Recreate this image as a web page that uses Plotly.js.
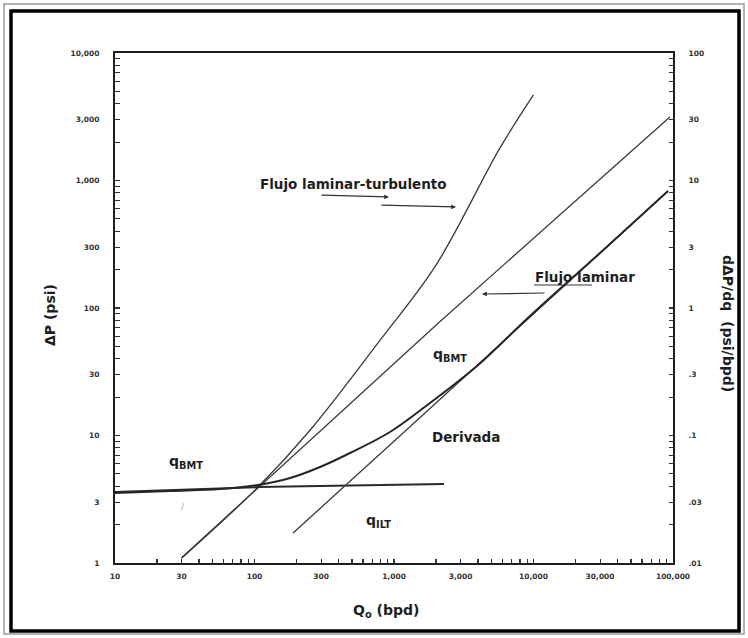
<!DOCTYPE html>
<html>
<head>
<meta charset="utf-8">
<script src="https://cdn.plot.ly/plotly-3.0.1.min.js"></script>
<style>
  html, body { margin: 0; padding: 0; background: #fff; }
  #chart { width: 748px; height: 638px; }
</style>
</head>
<body>
<div id="chart"></div>
<script>
// ---------- data ----------
// X axis: Qo (bpd); left Y: ΔP (psi); right Y: dΔP/dq (psi/bpd)
const xTickVals = [10, 30, 100, 300, 1000, 3000, 10000, 30000, 100000];
const xTickText = ["10", "30", "100", "300", "1,000", "3,000", "10,000", "30,000", "100,000"];
const yTickVals = [1, 3, 10, 30, 100, 300, 1000, 3000, 10000];
const yTickText = ["1", "3", "10", "30", "100", "300", "1,000", "3,000", "10,000"];
const y2TickVals = [0.01, 0.03, 0.1, 0.3, 1, 3, 10, 30, 100];
const y2TickText = [".01", ".03", ".1", ".3", "1", "3", "10", "30", "100"];

// ΔP curve, laminar-turbulent flow (left axis)
const qTurb  = [30, 106, 250, 795, 2000, 5750, 10000];
const dpTurb = [1.09, 3.94, 11.0, 56, 217, 1800, 4690];

// ΔP straight line, laminar flow (left axis)
const qLam  = [30, 2100, 95000];
const dpLam = [1.1, 77, 3150];

// Derivative curve (right axis)
const qDer = [10, 24.8, 56.6, 106, 180, 295, 484, 936, 1811, 3936, 9440, 29990, 92100];
const dDer = [0.0354, 0.0367, 0.038, 0.0409, 0.0464, 0.0566, 0.0729, 0.1065, 0.180, 0.351, 0.865, 2.70, 8.27];

// Derivative late-time straight line (right axis)
const qAsym = [189, 1368, 92100];
const dAsym = [0.0172, 0.123, 8.27];

// Derivative early-time flat line (right axis)
const qFlat = [10, 106, 2280];
const dFlat = [0.0361, 0.0394, 0.0417];

// ---------- layout helpers (pixel -> paper) ----------
const L = 115, R = 673, T = 53, B = 563;
const W = R - L, H = B - T;
const px = v => (v - L) / W;
const py = v => (B - v) / H;

// major labelled ticks + unlabelled minor log ticks (2..9 within each decade)
function withMinor(vals, text) {
  const tv = [], tt = [];
  for (let i = 0; i < vals.length; i++) {
    tv.push(vals[i]); tt.push(text[i]);
    if (i < vals.length - 1) {
      const base = Math.pow(10, Math.floor(Math.log10(vals[i]) + 1e-9));
      for (let k = 2; k <= 9; k++) {
        const v = k * base;
        if (v > vals[i] * 1.0001 && v < vals[i + 1] * 0.9999) { tv.push(v); tt.push(""); }
      }
    }
  }
  return { tv, tt };
}
const xT = withMinor(xTickVals, xTickText);
const yT = withMinor(yTickVals, yTickText);
const y2T = withMinor(y2TickVals, y2TickText);

const FONT = "DejaVu Sans, Liberation Sans, Arial, sans-serif";
const INK = "#1e1e1e";

const traces = [
  { x: qFlat, y: dFlat, yaxis: "y2", mode: "lines", line: { color: "#2a2a2a", width: 2 }, hoverinfo: "skip" },
  { x: qAsym, y: dAsym, yaxis: "y2", mode: "lines", line: { color: "#3a3a3a", width: 1.3 }, hoverinfo: "skip" },
  { x: qDer, y: dDer, yaxis: "y2", mode: "lines", line: { color: "#262626", width: 2, shape: "spline", smoothing: 1 }, hoverinfo: "skip" },
  { x: qLam, y: dpLam, mode: "lines", line: { color: "#3a3a3a", width: 1.3 }, hoverinfo: "skip" },
  { x: qTurb, y: dpTurb, mode: "lines", line: { color: "#3a3a3a", width: 1.3, shape: "spline", smoothing: 1 }, hoverinfo: "skip" }
];

const tickFont = { family: FONT, size: 7.5, color: "#333", weight: "bold" };

const axisCommon = {
  type: "log", showgrid: false, zeroline: false,
  showline: true, linecolor: INK, linewidth: 2,
  ticks: "inside", ticklen: 4, tickwidth: 1.1, tickcolor: "#333",
  tickfont: tickFont, tickmode: "array"
};

const layout = {
  width: 748, height: 638,
  margin: { l: L, r: 748 - R, t: T, b: 638 - B, pad: 0 },
  paper_bgcolor: "#fff", plot_bgcolor: "#fff",
  showlegend: false,
  font: { family: FONT, color: INK },
  xaxis: Object.assign({}, axisCommon, {
    range: [1, 5], tickvals: xT.tv, ticktext: xT.tt, mirror: true, ticklabelstandoff: 5
  }),
  yaxis: Object.assign({}, axisCommon, {
    range: [0, 4], tickvals: yT.tv, ticktext: yT.tt, ticklen: 5, ticklabelstandoff: 12
  }),
  yaxis2: Object.assign({}, axisCommon, {
    range: [-2, 2], tickvals: y2T.tv, ticktext: y2T.tt,
    overlaying: "y", side: "right", ticklabelstandoff: 12
  }),
  shapes: [
    // outer double frame of the figure
    { type: "rect", xref: "paper", yref: "paper", x0: px(4), x1: px(744), y0: py(634), y1: py(4),
      line: { color: "#9a9a9a", width: 1.5 } },
    { type: "rect", xref: "paper", yref: "paper", x0: px(11), x1: px(739), y0: py(631), y1: py(11),
      line: { color: "#000", width: 3.5 } },
    // underline of "Flujo la" in "Flujo laminar"
    { type: "line", xref: "paper", yref: "paper", x0: px(534), x1: px(592), y0: py(285), y1: py(285),
      line: { color: "#333", width: 1 } }
  ],
  annotations: [
    { text: "<b>ΔP (psi)</b>", x: px(50), y: py(315), textangle: -90, size: 14 },
    { text: "<b>dΔP/dq  (psi/bpd)</b>", x: px(728), y: py(323), textangle: 90, size: 14 },
    { text: "<b>Q<sub>o</sub> (bpd)</b>", x: px(386), y: py(611), size: 14 },
    { text: "<b>Flujo laminar-turbulento</b>", x: px(353), y: py(184), size: 13.5 },
    { text: "<b>Flujo laminar</b>", x: px(585), y: py(277), size: 13.5 },
    { text: "<b>Derivada</b>", x: px(466), y: py(437), size: 13.5 },
    { text: "<b>q<sub>BMT</sub></b>", x: px(450), y: py(355), size: 14 },
    { text: "<b>q<sub>BMT</sub></b>", x: px(186), y: py(462), size: 14 },
    { text: "<b>q<sub>ILT</sub></b>", x: px(378), y: py(521), size: 14 },
    { text: "/", x: px(183), y: py(507), size: 9, color: "#aaa" }
  ].map(a => ({
    text: a.text, xref: "paper", yref: "paper", x: a.x, y: a.y,
    xanchor: "center", yanchor: "middle", showarrow: false,
    textangle: a.textangle || 0,
    font: { size: a.size, family: FONT, color: a.color || INK }
  })).concat([
    // arrows
    { text: "", xref: "paper", yref: "paper", x: px(389), y: py(197), ax: -69, ay: -2, showarrow: true,
      arrowhead: 2, arrowsize: 0.8, arrowwidth: 1.2, arrowcolor: "#333" },
    { text: "", xref: "paper", yref: "paper", x: px(456), y: py(207), ax: -76, ay: -2, showarrow: true,
      arrowhead: 2, arrowsize: 0.8, arrowwidth: 1.2, arrowcolor: "#333" },
    { text: "", xref: "paper", yref: "paper", x: px(482), y: py(294), ax: 64, ay: -1, showarrow: true,
      arrowhead: 2, arrowsize: 0.8, arrowwidth: 1.2, arrowcolor: "#333" }
  ])
};

Plotly.newPlot("chart", traces, layout, { displayModeBar: false, staticPlot: true });
</script>
</body>
</html>
